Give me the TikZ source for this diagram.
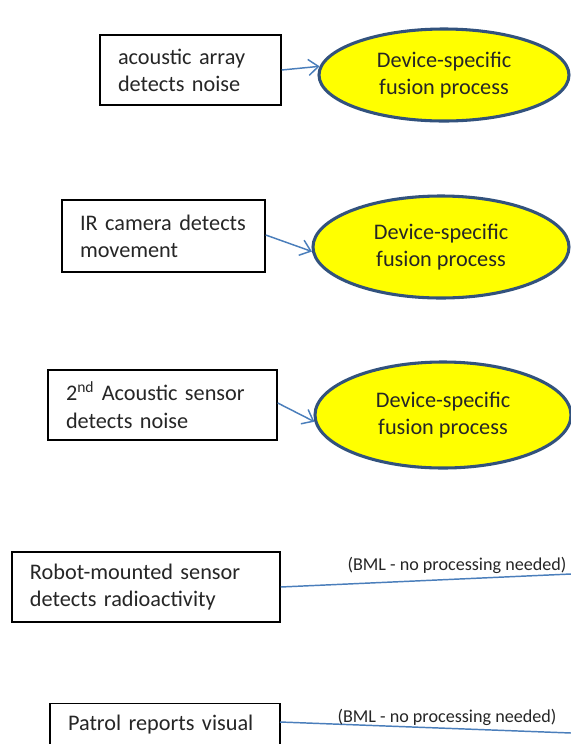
\documentclass[tikz,border=0pt]{standalone}
\usepackage{fontspec}
\setmainfont{Carlito}
\usetikzlibrary{arrows.meta,shapes.geometric}
\definecolor{linkblue}{RGB}{74,126,187}
\definecolor{rimblue}{RGB}{50,82,125}
\definecolor{inkgray}{RGB}{38,38,38}
\definecolor{fuseyellow}{RGB}{255,255,0}

\begin{document}
\begin{tikzpicture}[x=0.75pt,y=-0.75pt,
  every node/.style={text=inkgray},
  bigtext/.style={font=\fontsize{16.7}{20.3}\selectfont},
  sensor/.style 2 args={bigtext, draw=black, line width=1.1pt, rectangle,
    minimum width={#1*0.75pt}, minimum height={#2*0.75pt},
    text width={(#1-36)*0.75pt}, inner xsep={18*0.75pt}, inner ysep=0pt,
    align=left},
  fusion/.style 2 args={bigtext, ellipse, draw=rimblue, line width=2.3pt,
    fill=fuseyellow, minimum width={#1*0.75pt}, minimum height={#2*0.75pt},
    inner sep=0pt, align=center},
  feed/.style={draw=linkblue, line width=1.1pt,
    -{Straight Barb[length=7.5pt,width=12pt,line width=1.1pt]}},
  bmlline/.style={draw=linkblue, line width=1.1pt},
  bml/.style={font=\fontsize{13.6}{16}\selectfont, inner sep=0pt}
]
\useasboundingbox (0,0) rectangle (571,744);
\fill[white] (0,0) rectangle (571,744);
\clip (0,0) rectangle (571,744);

% sensor reports
\node[sensor={181}{70}] (b1) at (190.5,70) {acoustic array\\detects noise};
\node[sensor={203}{72}] (b2) at (163.5,236) {IR camera detects\\movement};
\node[sensor={229}{70}] (b3) at (162.5,405) {2\textsuperscript{nd} Acoustic sensor\\detects noise};
\node[sensor={268}{70}] (b4) at (146,587) {Robot-mounted sensor\\detects radioactivity};
\node[sensor={230}{70}, anchor=north, text height={27*0.75pt}, text depth={43*0.75pt}]
  (b5) at (165,703) {Patrol reports visual};

% fusion processes
\node[fusion={250}{92}] (e1) at (444,75) {Device-specific\\fusion process};
\node[fusion={256}{102}] (e2) at (441,247) {Device-specific\\fusion process};
\node[fusion={256}{106}] (e3) at (443,415) {Device-specific\\fusion process};

% feeds into fusion
\draw[feed] (b1.east) -- (e1.176);
\draw[feed] ([yshift={1*0.75pt}]b2.east) -- (e2.182);
\draw[feed] ([yshift={2*0.75pt}]b3.east) -- (e3.183);

% direct BML reports
\coordinate (r4) at (571,574);
\coordinate (r5) at (571,733);
\coordinate (s5) at (280,722);
\draw[bmlline] (b4.east) -- (r4);
\draw[bmlline] (s5) -- (r5);
\node[bml] (l4) at (457,565) {(BML - no processing needed)};
\node[bml] (l5) at (447,717) {(BML - no processing needed)};
\end{tikzpicture}
\end{document}
